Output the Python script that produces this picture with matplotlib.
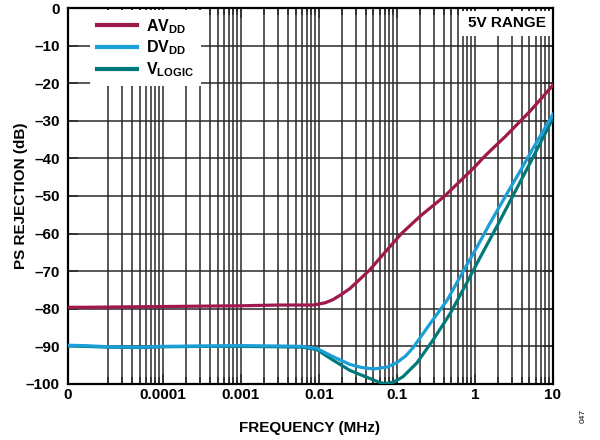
import numpy as np
import matplotlib
matplotlib.use('Agg')
import matplotlib.pyplot as plt
from matplotlib.ticker import FixedLocator, NullFormatter

plt.rcParams['font.family'] = ['Liberation Sans', 'DejaVu Sans']
plt.rcParams['font.weight'] = 'bold'
plt.rcParams['mathtext.fontset'] = 'custom'
plt.rcParams['mathtext.bf'] = 'Liberation Sans:bold'
plt.rcParams['mathtext.rm'] = 'Liberation Sans:bold'

# 数据（从图上读的）
f_left = 6.05e-6   # 左边界，标成 "0"
freq_av = [f_left, 1e-5, 3e-5, 1e-4, 3e-4, 1e-3, 3e-3, 6e-3, 8.5e-3, 0.012, 0.015, 0.019, 0.025,
           0.0336, 0.045, 0.07, 0.114, 0.2, 0.41, 1.0, 1.28, 1.72, 2.5, 3.77, 5.0, 7.0, 10]
avdd = [-79.6, -79.6, -79.5, -79.4, -79.3, -79.2, -79.0, -79.0, -79.0, -78.4, -77.6, -76.3, -74.6,
        -72.1, -69.6, -65.0, -60.0, -55.3, -50.0, -42.2, -39.8, -37.2, -34.0, -30.2, -27.6, -24.2, -20.5]

freq_dv = [f_left, 1e-5, 2e-5, 5e-5, 1e-4, 3e-4, 1e-3, 3e-3, 6e-3, 9.3e-3, 0.015, 0.025, 0.035,
           0.05, 0.075, 0.1, 0.13, 0.16, 0.265, 0.44, 0.70, 1.06, 1.56, 2.55, 3.77, 5.6, 10]
dvdd = [-89.7, -89.8, -90.1, -90.2, -90.0, -89.9, -89.8, -89.9, -90.0, -90.5, -92.7, -94.8, -95.6,
        -96.0, -95.5, -94.3, -92.5, -90.4, -84.0, -77.7, -70.2, -63.6, -57.2, -49.5, -43.5, -37.2, -28.3]

freq_vl = [f_left, 1e-5, 2e-5, 5e-5, 1e-4, 3e-4, 1e-3, 3e-3, 6e-3, 9.3e-3, 0.015, 0.025, 0.041,
           0.06, 0.07, 0.09, 0.119, 0.18, 0.29, 0.48, 0.79, 1.16, 1.92, 2.8, 5.07, 10]
vlogic = [-89.9, -90.0, -90.2, -90.3, -90.1, -90.0, -90.0, -90.1, -90.2, -90.8, -93.6, -96.4, -98.2,
          -99.6, -99.9, -99.5, -98.1, -94.4, -88.3, -81.3, -73.0, -66.4, -58.0, -51.5, -41.3, -29.3]

x_ticks = [f_left, 1e-4, 1e-3, 1e-2, 1e-1, 1, 10]
x_labels = ['0', '0.0001', '0.001', '0.01', '0.1', '1', '10']
y_ticks = list(range(-100, 1, 10))
y_labels = [('\u2013' + str(-v)) if v < 0 else str(v) for v in y_ticks]

fig = plt.figure(figsize=(6, 4.4), dpi=100)
ax = fig.add_axes([0.1133, 0.1273, 0.8083, 0.8545])

ax.plot(freq_av, avdd, color='#a0194c', lw=2.3, label=r'AV$_\mathbf{DD}$', zorder=4,
        solid_joinstyle='round')
ax.plot(freq_dv, dvdd, color='#1a9fd8', lw=2.3, label=r'DV$_\mathbf{DD}$', zorder=4,
        solid_joinstyle='round')
ax.plot(freq_vl, vlogic, color='#00797a', lw=2.3, label=r'V$_\mathbf{LOGIC}$', zorder=3,
        solid_joinstyle='round')

ax.set_xscale('log')
ax.set_xlim(f_left, 10)
ax.set_ylim(-100, 0)
ax.xaxis.set_major_locator(FixedLocator(x_ticks))
ax.set_xticklabels(x_labels)
minor = [m * 10.0**k for k in range(-5, 1) for m in range(2, 10)]
ax.xaxis.set_minor_locator(FixedLocator(minor))
ax.xaxis.set_minor_formatter(NullFormatter())
ax.set_yticks(y_ticks)
ax.set_yticklabels(y_labels)

ax.grid(True, which='both', axis='x', color='#2a2a2a', lw=1.1)
ax.grid(True, which='major', axis='y', color='#2a2a2a', lw=1.1)
ax.tick_params(which='both', direction='in', top=True, right=True, labelsize=11, color='#2a2a2a')
ax.tick_params(which='major', length=7, width=1.1)
ax.tick_params(axis='x', which='major', pad=3)
ax.tick_params(axis='y', which='major', pad=6)
ax.tick_params(which='minor', length=5, width=1.1)
for s in ax.spines.values():
    s.set_linewidth(1.6)
    s.set_color('black')

ax.set_xlabel('FREQUENCY (MHz)', fontsize=11, fontweight='bold')
ax.set_ylabel('PS REJECTION (dB)', fontsize=11, fontweight='bold')
ax.xaxis.set_label_coords(0.499, -0.098)
ax.yaxis.set_label_coords(-0.083, 0.5)

leg = ax.legend(loc='upper left', bbox_to_anchor=(0.025, 0.995), fontsize=11.5, frameon=True,
                fancybox=False, handlelength=2.5, handletextpad=0.55, labelspacing=0.18,
                borderaxespad=0, borderpad=0.45)
leg.get_frame().set_facecolor('white')
leg.get_frame().set_edgecolor('none')
leg.get_frame().set_alpha(1)
# 左侧留白，和原图一样
leg._legend_box.align = 'left'
for line in leg.get_lines():
    line.set_linewidth(3)
leg.set_bbox_to_anchor((0.045, 0.995), transform=ax.transAxes)

ax.text(0.985, 0.96, '5V RANGE', transform=ax.transAxes, ha='right', va='center',
        fontsize=11, fontweight='bold', zorder=6,
        bbox=dict(facecolor='white', edgecolor='none', pad=4))

fig.text(0.972, 0.055, '047', rotation=90, fontsize=6, fontweight='normal', ha='center', va='center')

plt.savefig('out.png', dpi=100)
